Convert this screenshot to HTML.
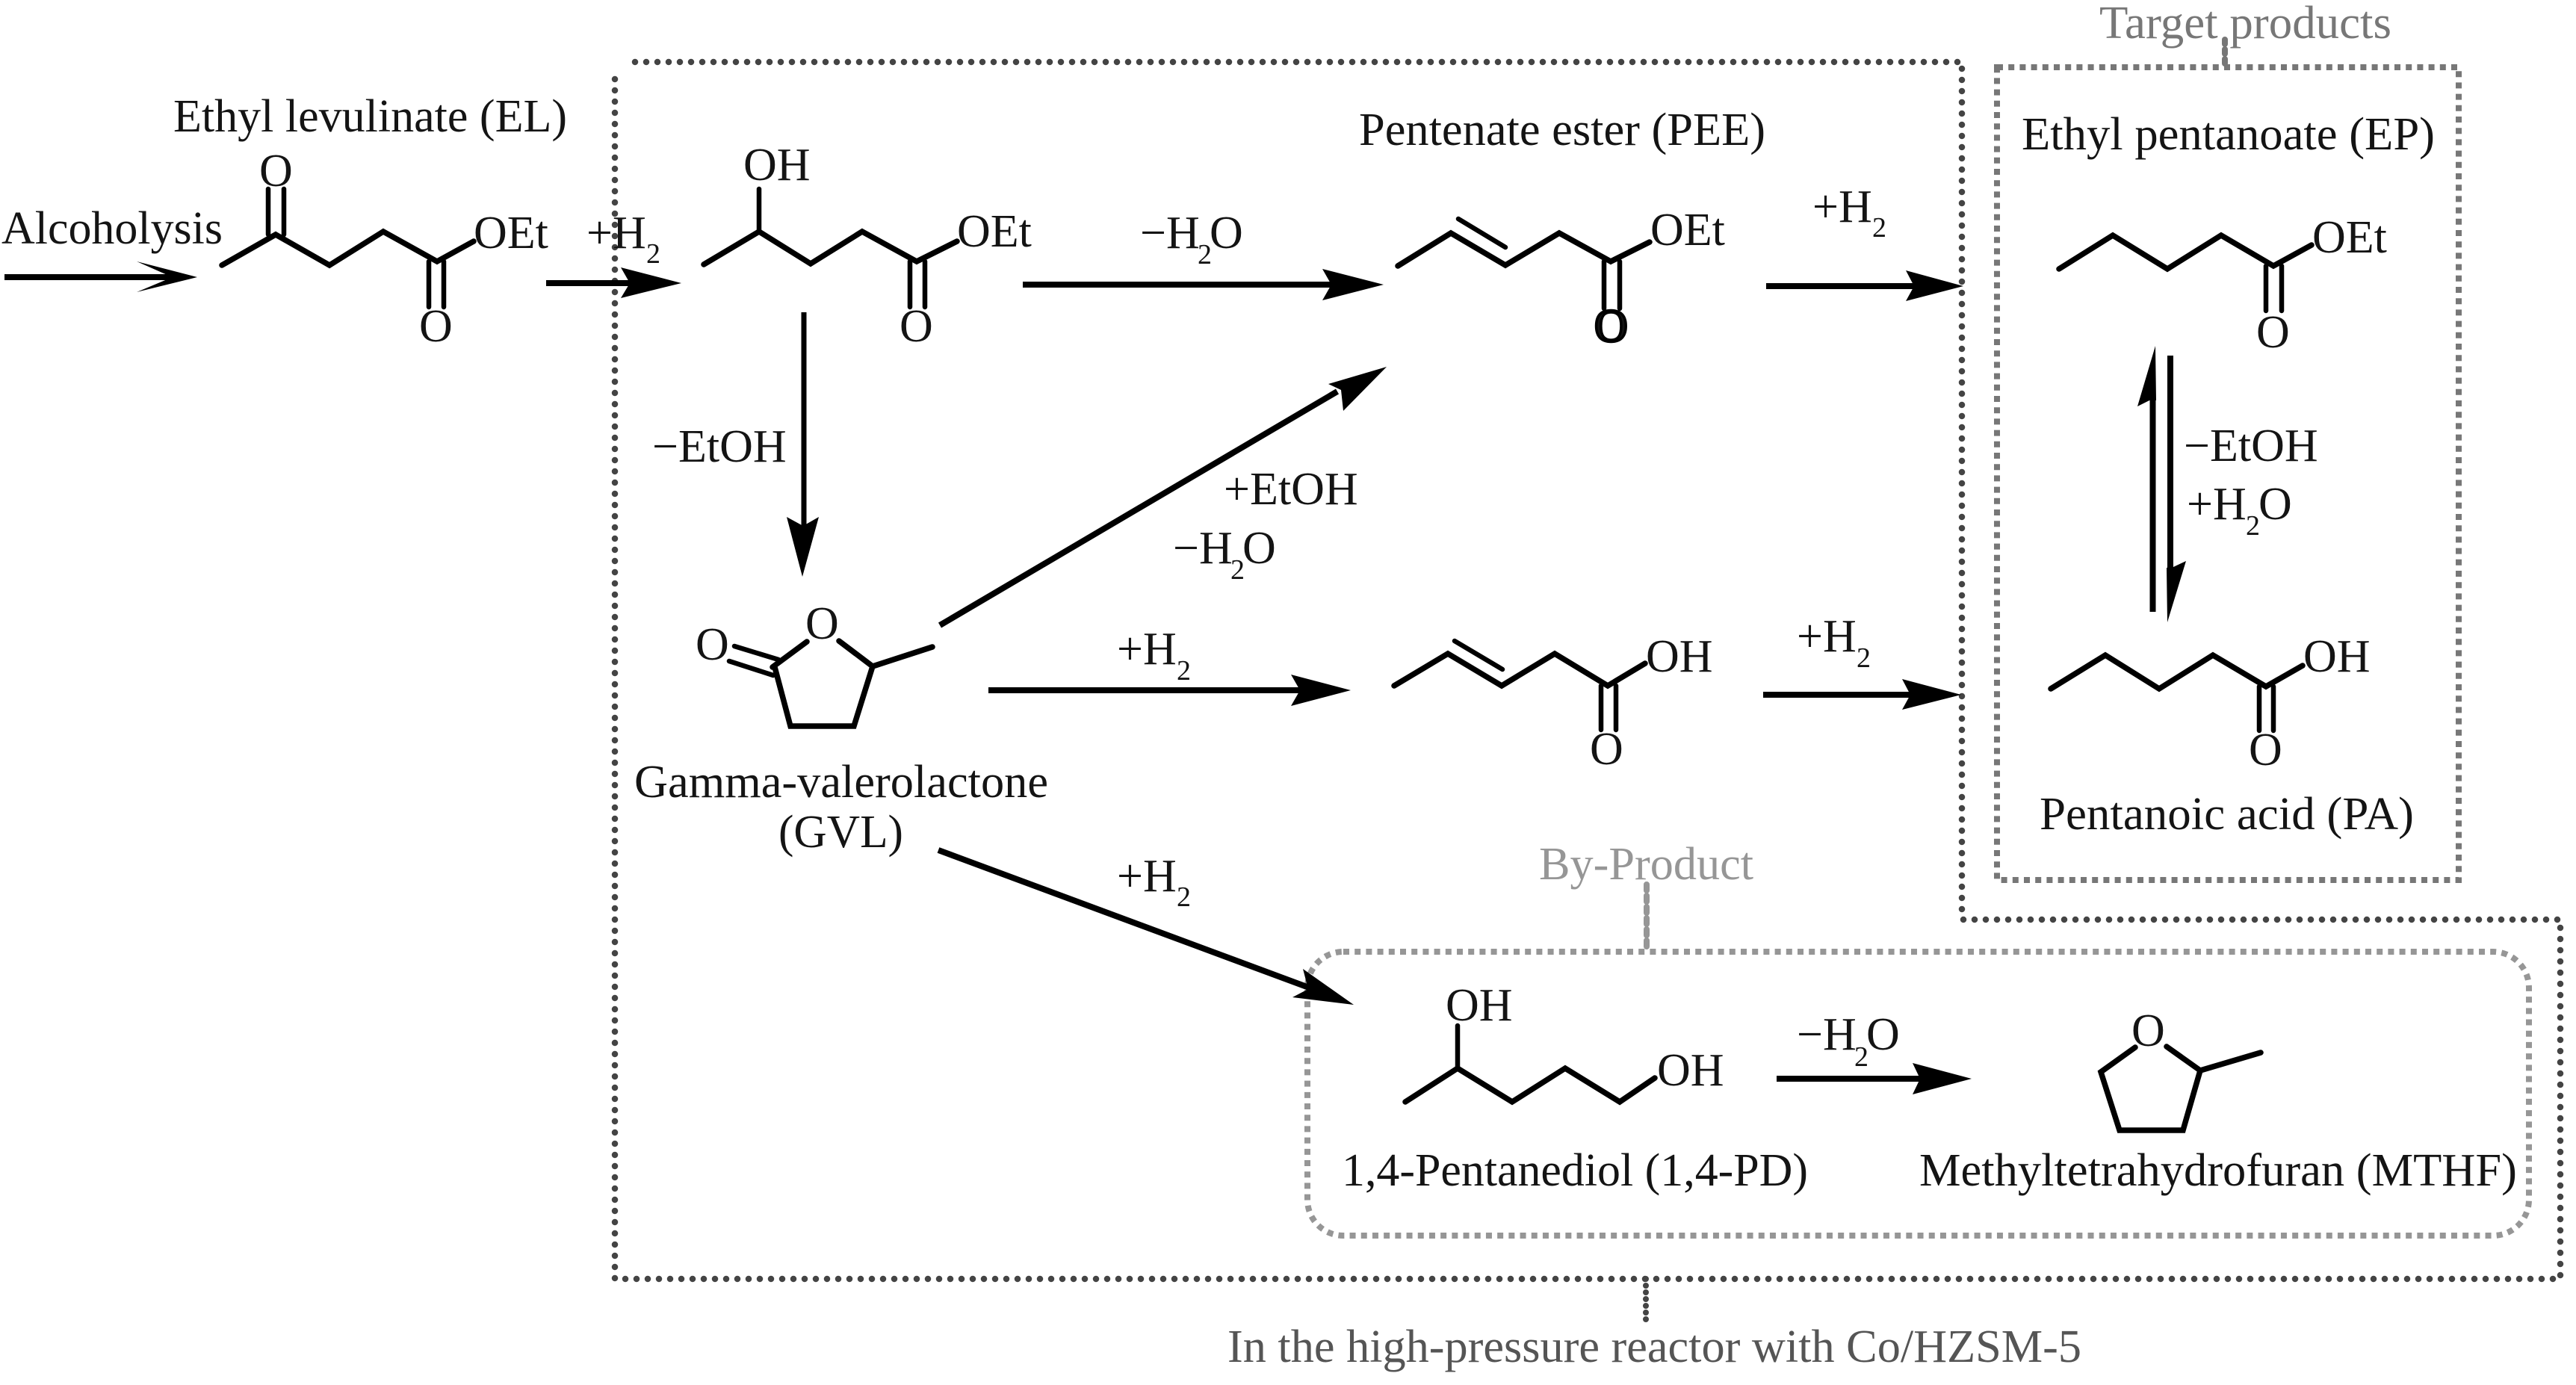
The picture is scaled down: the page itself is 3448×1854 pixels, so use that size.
<!DOCTYPE html>
<html><head><meta charset="utf-8"><title>Reaction scheme</title>
<style>html,body{margin:0;padding:0;background:#fff}svg{display:block}
text{font-family:"Liberation Serif",serif;font-size:62px;fill:#141414}
.s{font-size:38px}
.b{fill:none;stroke:#000;stroke-width:7.5;stroke-linecap:round;stroke-linejoin:miter}
.d{fill:none;stroke:#000;stroke-width:6.5;stroke-linecap:round}
.a{fill:none;stroke:#000;stroke-width:8}
</style></head><body>
<svg xmlns="http://www.w3.org/2000/svg" width="3448" height="1854" viewBox="0 0 3448 1854">
<rect width="3448" height="1854" fill="#fff"/>
<!-- reactor dotted outline -->
<path d="M823 106V1712H3427V1231H2623M2626 1217V83H836" fill="none" stroke="#444" stroke-width="8.5" stroke-linecap="round" stroke-dasharray="0 15"/>
<path d="M2203 1712V1772" fill="none" stroke="#444" stroke-width="8" stroke-linecap="round" stroke-dasharray="0 9"/>
<!-- target box -->
<rect x="2673" y="90" width="618" height="1088" fill="none" stroke="#777" stroke-width="8" stroke-dasharray="8 7.2"/>
<path d="M2978 53V90" fill="none" stroke="#777" stroke-width="8" stroke-linecap="round" stroke-dasharray="6 7"/>
<!-- by-product box -->
<rect x="1750" y="1274" width="1635" height="380" rx="48" fill="none" stroke="#969696" stroke-width="8" stroke-dasharray="8 7.2"/>
<path d="M2204 1184V1268" fill="none" stroke="#969696" stroke-width="8" stroke-linecap="round" stroke-dasharray="8 7"/>

<!-- labels -->
<text x="2810" y="51" textLength="391" lengthAdjust="spacingAndGlyphs" style="fill:#777">Target products</text>
<text x="232" y="176" textLength="527" lengthAdjust="spacingAndGlyphs">Ethyl levulinate (EL)</text>
<text x="1819" y="194" textLength="544" lengthAdjust="spacingAndGlyphs">Pentenate ester (PEE)</text>
<text x="2706" y="200" textLength="553" lengthAdjust="spacingAndGlyphs">Ethyl pentanoate (EP)</text>
<text x="2" y="326" textLength="296" lengthAdjust="spacingAndGlyphs">Alcoholysis</text>
<text x="849" y="1067" textLength="554" lengthAdjust="spacingAndGlyphs">Gamma-valerolactone</text>
<text x="1042" y="1134" textLength="167" lengthAdjust="spacingAndGlyphs">(GVL)</text>
<text x="2730" y="1110" textLength="501" lengthAdjust="spacingAndGlyphs">Pentanoic acid (PA)</text>
<text x="2060" y="1177" textLength="287" lengthAdjust="spacingAndGlyphs" style="fill:#969696">By-Product</text>
<text x="1796" y="1587" textLength="624" lengthAdjust="spacingAndGlyphs">1,4-Pentanediol (1,4-PD)</text>
<text x="2569" y="1587" textLength="800" lengthAdjust="spacingAndGlyphs">Methyltetrahydrofuran (MTHF)</text>
<text x="1643" y="1823" textLength="1143" lengthAdjust="spacingAndGlyphs" style="fill:#555">In the high-pressure reactor with Co/HZSM-5</text>

<!-- EL -->
<path class="b" d="M297 355L369 314L441 355L513 310L585 350L634 323"/>
<path class="d" d="M359 314V253M380 314V253M574 350V411M594 350V411"/>
<text x="347" y="249">O</text><text x="561" y="457">O</text><text x="634" y="332">OEt</text>
<!-- hydroxy ester -->
<path class="b" d="M942 354L1016 310L1085 353L1154 310L1227 350L1281 323"/>
<path class="d" d="M1016 310V253M1218 350V411M1238 350V411"/>
<text x="995" y="241">OH</text><text x="1204" y="457">O</text><text x="1281" y="330">OEt</text>
<!-- PEE -->
<path class="b" d="M1871 356L1942 312L2015 355L2087 312L2156 350L2208 324"/>
<path class="d" d="M1952 293L2015 331M2147 350V413M2168 350V413"/>
<text x="2134" y="457" style="stroke:#000;stroke-width:3.5">O</text><text x="2209" y="328">OEt</text>
<!-- EP -->
<path class="b" d="M2756 360L2828 315L2901 360L2973 315L3043 356L3094 328"/>
<path class="d" d="M3033 356V416M3054 356V416"/>
<text x="3020" y="465">O</text><text x="3095" y="338">OEt</text>
<!-- PA -->
<path class="b" d="M2745 922L2818 877L2890 922L2962 877L3033 919L3082 891"/>
<path class="d" d="M3024 919V978M3043 919V978"/>
<text x="3010" y="1024">O</text><text x="3083" y="899">OH</text>
<!-- pentenoic acid -->
<path class="b" d="M1866 918L1938 875L2010 918L2081 875L2152 918L2202 888"/>
<path class="d" d="M1947 858L2011 896M2143 918V977M2163 918V977"/>
<text x="2128" y="1023">O</text><text x="2203" y="899">OH</text>
<!-- GVL -->
<path class="b" d="M1080 859L1034 893M1037 893L1058 972H1143L1168 892L1123 858M1168 892L1248 866"/>
<path class="d" d="M983 865L1042 883M976 885L1035 904"/>
<text x="931" y="883">O</text><text x="1078" y="855">O</text>
<!-- 1,4-PD -->
<path class="b" d="M1881 1475L1951 1430L2024 1475L2095 1430L2168 1475L2215 1443"/>
<path class="d" d="M1951 1430V1373"/>
<text x="1935" y="1366">OH</text><text x="2218" y="1453">OH</text>
<!-- MTHF -->
<path class="b" d="M2858 1402L2812 1435L2837 1513H2922L2945 1433L2900 1401M2945 1433L3026 1409"/>
<text x="2853" y="1400">O</text>

<!-- arrows -->
<path class="a" d="M6 371H235"/><polygon points="183,350 264,371 183,391 226,373 226,369"/>
<path class="a" d="M731 379H850"/><polygon points="831,358 912,379 831,399 843,379"/>
<path class="a" d="M1369 381H1790"/><polygon points="1770,360 1852,381 1770,402 1782,381"/>
<path class="a" d="M2364 383H2565"/><polygon points="2551,362 2628,383 2551,403 2562,383"/>
<path class="a" d="M2360 930H2560"/><polygon points="2546,909 2625,930 2546,950 2557,930"/>
<path class="a" d="M1323 924H1745"/><polygon points="1728,903 1808,924 1728,945 1740,924"/>
<path class="a" d="M2378 1444H2575"/><polygon points="2560,1423 2639,1444 2560,1465 2570,1444"/>
<path d="M1076 418V710" stroke="#000" stroke-width="7"/><polygon points="1053,692 1075,704 1096,692 1074,772"/>
<path class="a" d="M1258 837L1790 524"/><polygon points="1856,491 1778,514 1795,522 1798,550"/>
<path class="a" d="M1256 1138L1760 1325"/><polygon points="1812,1345 1744,1297 1751,1324 1730,1335"/>
<path class="a" d="M2881.5 530V819"/><polygon points="2885,463 2861,544 2877,536 2886,536"/>
<path class="a" d="M2905 476V765"/><polygon points="2901,833 2926,751 2909,759 2900,760"/>

<!-- reagents -->
<text x="785" y="332">+H</text><text class="s" x="865" y="352">2</text>
<text x="1526" y="332">−H</text><text class="s" x="1603" y="353">2</text><text x="1619" y="332">O</text>
<text x="2426" y="297">+H</text><text class="s" x="2506" y="317">2</text>
<text x="2405" y="872">+H</text><text class="s" x="2485" y="893">2</text>
<text x="873" y="618">−EtOH</text>
<text x="2923" y="617">−EtOH</text>
<text x="2927" y="695">+H</text><text class="s" x="3006" y="716">2</text><text x="3023" y="695">O</text>
<text x="1638" y="675">+EtOH</text>
<text x="1570" y="754">−H</text><text class="s" x="1647" y="775">2</text><text x="1663" y="754">O</text>
<text x="1495" y="889">+H</text><text class="s" x="1575" y="910">2</text>
<text x="1495" y="1193">+H</text><text class="s" x="1575" y="1213">2</text>
<text x="2405" y="1405">−H</text><text class="s" x="2482" y="1427">2</text><text x="2498" y="1405">O</text>
</svg>
</body></html>
